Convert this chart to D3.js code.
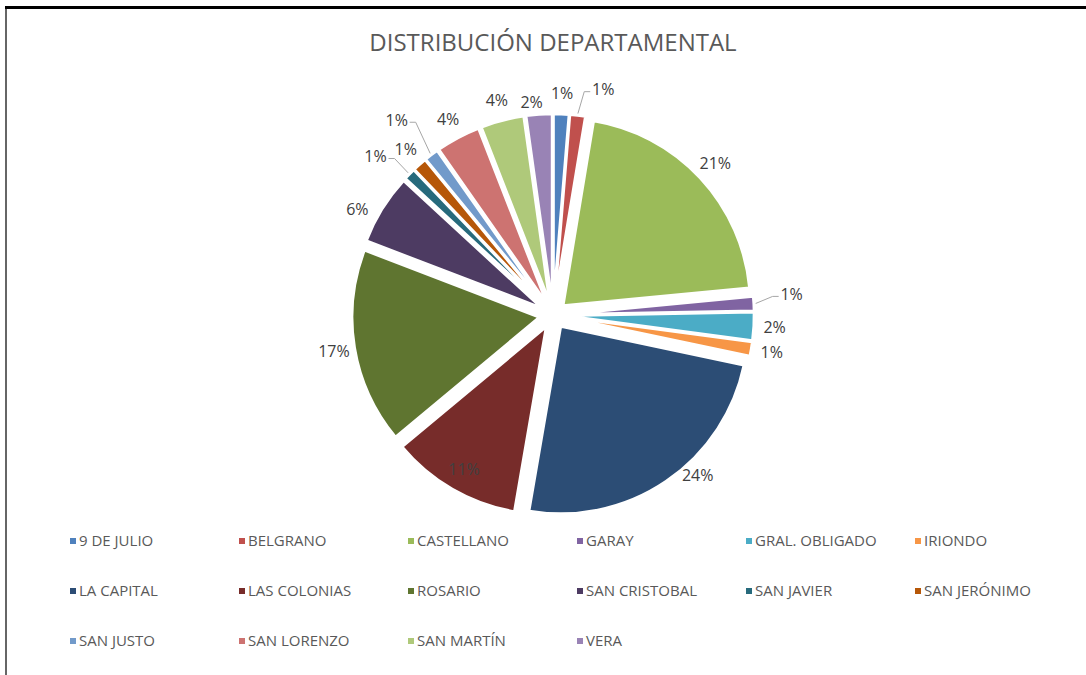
<!DOCTYPE html>
<html lang="es">
<head>
    <meta charset="UTF-8">
    <title>Distribución Departamental</title>
    <script src="https://d3js.org/d3.v7.min.js"></script>
    <style>
        body { margin: 0; background: #fff; }
        svg { display: block; font-family: "Open Sans", sans-serif; }
    </style>
</head>
<body>
    <div id="chart-container"></div>

    <script>
        // data (share of each departamento, in %)
        const departamentos = ["9 DE JULIO", "BELGRANO", "CASTELLANO", "GARAY", "GRAL. OBLIGADO", "IRIONDO",
            "LA CAPITAL", "LAS COLONIAS", "ROSARIO", "SAN CRISTOBAL", "SAN JAVIER", "SAN JERÓNIMO",
            "SAN JUSTO", "SAN LORENZO", "SAN MARTÍN", "VERA"];
        const valores = [1.3, 1.3, 20.8, 1.2, 2.4, 1.2, 24.3, 11.2, 16.8, 6.0, 1.0, 1.2, 1.2, 3.8, 3.7, 2.2];
        const colores = ["#4F81BD", "#C0504D", "#9BBB59", "#8064A2", "#4BACC6", "#F79646",
            "#2C4D75", "#772C2A", "#5F7530", "#4D3B62", "#276A7C", "#B65708",
            "#729ACA", "#CD7371", "#AFC97A", "#9983B5"];

        const width = 1086, height = 675;
        const cx = 553, cy = 315;
        const radius = 187, explode = 14, labelR = 222;

        // where Excel shifted a label from its default spot
        const labelNudge = {
            "BELGRANO": [23, -5],
            "SAN JUSTO": [-22, -18],
            "SAN JAVIER": [-19, -3],
            "GARAY": [17, -8],
            "LA CAPITAL": [20, -23],
            "VERA": [-6, 9],
            "SAN CRISTOBAL": [-7, 11]
        };
        // those tied back with a leader line
        const withLeader = ["BELGRANO", "SAN JUSTO", "SAN JAVIER", "GARAY"];
        // label drawn inside its slice
        const insideR = { "LAS COLONIAS": 178 };

        const svg = d3.select("#chart-container")
            .append("svg")
            .attr("width", width)
            .attr("height", height);

        // frame edges visible in the screenshot
        svg.append("rect").attr("x", 5).attr("y", 7).attr("width", 2).attr("height", height - 7).attr("fill", "#666");
        svg.append("rect").attr("x", 5).attr("y", 6).attr("width", width - 5).attr("height", 3).attr("fill", "#000");

        svg.append("text")
            .attr("x", cx)
            .attr("y", 51)
            .attr("text-anchor", "middle")
            .attr("fill", "#595959")
            .style("font-size", "24px")
            .text("DISTRIBUCIÓN DEPARTAMENTAL");

        const total = d3.sum(valores);
        const color = d3.scaleOrdinal().domain(departamentos).range(colores);

        const pie = d3.pie().sort(null).value(d => d.valor);
        const arcs = pie(departamentos.map((name, i) => ({ name, valor: valores[i] })));
        const arc = d3.arc().innerRadius(0).outerRadius(radius);
        const mid = d => (d.startAngle + d.endAngle) / 2;

        const g = svg.append("g").attr("transform", `translate(${cx},${cy})`);

        g.selectAll("path.slice")
            .data(arcs)
            .enter().append("path")
            .attr("class", "slice")
            .attr("d", arc)
            .attr("transform", d => `translate(${explode * Math.sin(mid(d))},${-explode * Math.cos(mid(d))})`)
            .attr("fill", d => color(d.data.name))
            .attr("stroke", "#fff")
            .attr("stroke-width", 2.5)
            .attr("stroke-linejoin", "round");

        // label positions
        arcs.forEach(d => {
            const a = mid(d);
            const r = insideR[d.data.name] || labelR;
            const n = labelNudge[d.data.name] || [0, 0];
            d.lx = r * Math.sin(a) + n[0];
            d.ly = -r * Math.cos(a) + n[1];
        });

        // leader lines
        arcs.filter(d => withLeader.includes(d.data.name)).forEach(d => {
            const a = mid(d);
            const rr = radius + explode + 2;
            const sx = rr * Math.sin(a), sy = -rr * Math.cos(a);
            const side = Math.sign(labelNudge[d.data.name][0]);
            const ex = d.lx - side * 13, ey = d.ly + 2;
            const elx = ex - side * 6;
            g.append("polyline")
                .attr("points", `${sx},${sy} ${elx},${ey} ${ex},${ey}`)
                .attr("fill", "none")
                .attr("stroke", "#a6a6a6")
                .attr("stroke-width", 1);
        });

        g.selectAll("text.lbl")
            .data(arcs)
            .enter().append("text")
            .attr("class", "lbl")
            .attr("x", d => d.lx)
            .attr("y", d => d.ly)
            .attr("dy", "0.36em")
            .attr("text-anchor", "middle")
            .attr("fill", "#404040")
            .style("font-size", "16px")
            .text(d => Math.round(d.data.valor / total * 100) + "%");

        // legend: 6 columns x 3 rows
        const colX = d3.scaleBand().domain(d3.range(6)).range([70, 70 + 6 * 169]);
        const rowY = d3.scaleBand().domain(d3.range(3)).range([516, 666]);

        const legend = svg.append("g")
            .selectAll("g")
            .data(departamentos)
            .enter().append("g")
            .attr("transform", (d, i) => `translate(${colX(i % 6)},${rowY(Math.floor(i / 6)) + rowY.bandwidth() / 2})`);

        legend.append("rect")
            .attr("x", 0)
            .attr("y", -3)
            .attr("width", 6)
            .attr("height", 6)
            .attr("fill", color);

        legend.append("text")
            .attr("x", 9)
            .attr("y", 0)
            .attr("dy", "0.36em")
            .attr("fill", "#595959")
            .style("font-size", "15px")
            .text(d => d);
    </script>
</body>
</html>
